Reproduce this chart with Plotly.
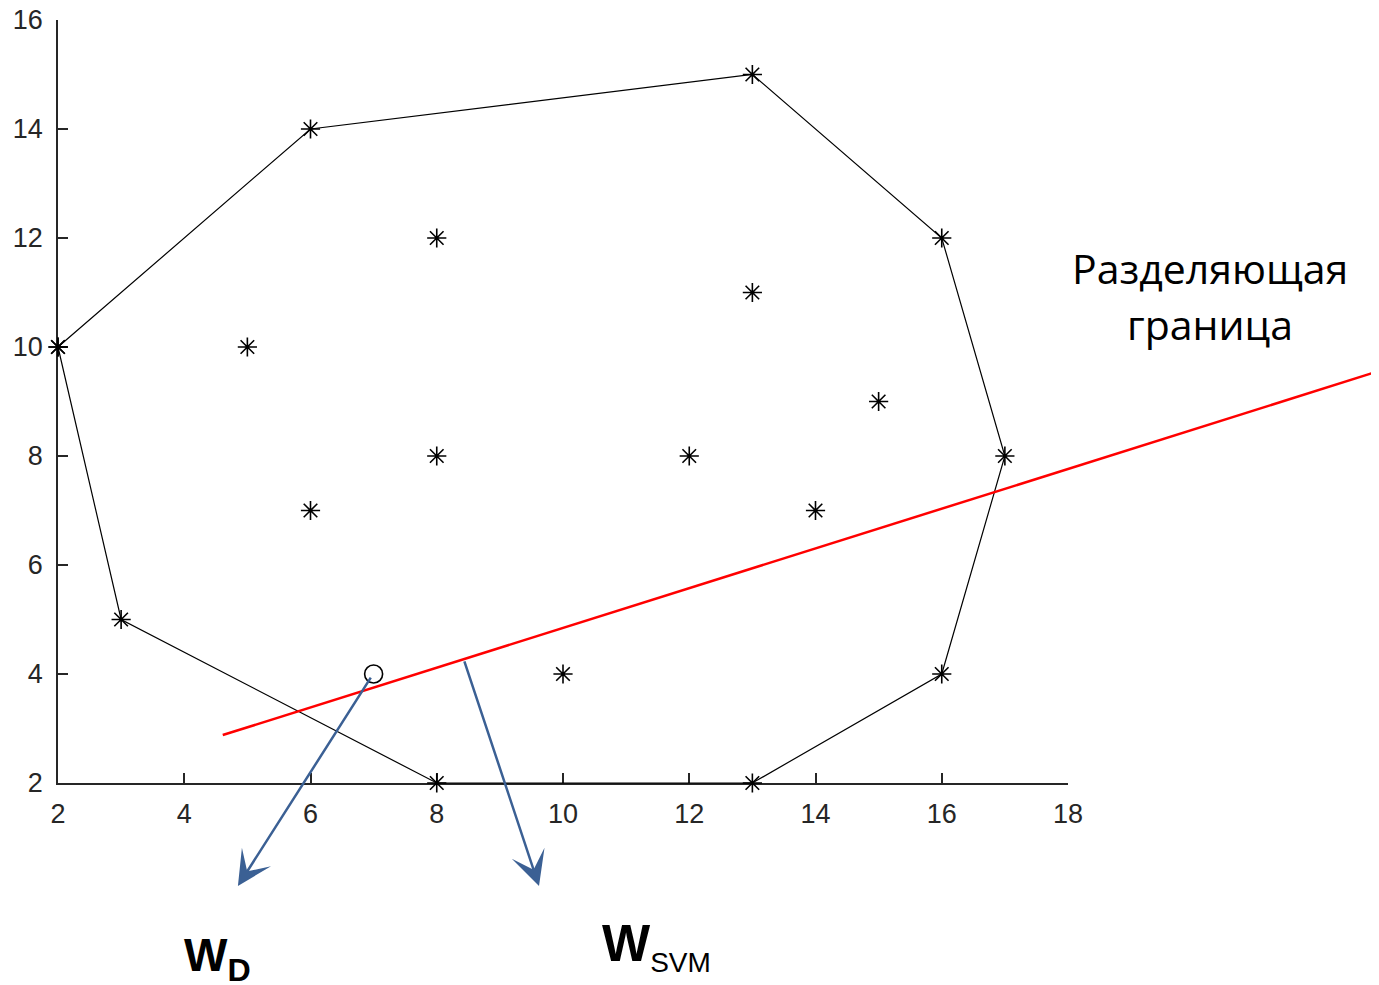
import plotly.graph_objects as go

# ---------------- data ----------------
hull_x = [2, 6, 13, 16, 17, 16, 13, 8, 3, 2]
hull_y = [10, 14, 15, 12, 8, 4, 2, 2, 5, 10]
inner_x = [8, 5, 13, 15, 8, 12, 6, 14, 10]
inner_y = [12, 10, 11, 9, 8, 8, 7, 7, 4]
test_x = [7]
test_y = [4]
boundary_x = [4.61, 22.82]
boundary_y = [2.88, 9.52]
# arrows: tail -> tip
wd_tail = (6.97, 3.96)
wd_tip = (4.85, 0.11)
wsvm_tail = (8.43, 4.26)
wsvm_tip = (9.62, 0.11)
xticks = [2, 4, 6, 8, 10, 12, 14, 16, 18]
yticks = [2, 4, 6, 8, 10, 12, 14, 16]

# ---------------- geometry ----------------
OFF = 8  # page body margin
W, H = 1379 - OFF, 985 - OFF
px_l, px_r = 58 - OFF, 1068 - OFF      # x=2 .. x=18
py_t, py_b = 20 - OFF, 783 - OFF       # y=16 .. y=2
xmin, xmax, ymin, ymax = 2, 18, 2, 16
sx = (px_r - px_l) / (xmax - xmin)
sy = (py_b - py_t) / (ymax - ymin)
x2_range = [xmin - px_l / sx, xmin + (W - px_l) / sx]
y2_range = [ymin - (H - py_b) / sy, ymax + py_t / sy]


def px(x):
    return (x - OFF) / W


def py(y):
    return 1 - (y - OFF) / H


AX = "#262626"
BLUE = "#3B6094"

fig = go.Figure()
fig.add_trace(go.Scatter(x=[], y=[], xaxis="x", yaxis="y", showlegend=False))
fig.add_trace(go.Scatter(x=hull_x, y=hull_y, mode="lines+markers", xaxis="x2", yaxis="y2",
                         line=dict(color="black", width=1.2),
                         marker=dict(symbol="asterisk-open", size=16, color="black",
                                     line=dict(color="black", width=1.6)),
                         showlegend=False, hoverinfo="skip"))
fig.add_trace(go.Scatter(x=inner_x, y=inner_y, mode="markers", xaxis="x2", yaxis="y2",
                         marker=dict(symbol="asterisk-open", size=16, color="black",
                                     line=dict(color="black", width=1.6)),
                         showlegend=False, hoverinfo="skip"))
fig.add_trace(go.Scatter(x=test_x, y=test_y, mode="markers", xaxis="x2", yaxis="y2",
                         marker=dict(symbol="circle-open", size=18, color="black",
                                     line=dict(color="black", width=1.6)),
                         showlegend=False, hoverinfo="skip"))
fig.add_trace(go.Scatter(x=boundary_x, y=boundary_y, mode="lines", xaxis="x2", yaxis="y2",
                         line=dict(color="#FF0000", width=2.5),
                         showlegend=False, hoverinfo="skip"))

annotations = []
for tail, tip in [(wd_tail, wd_tip), (wsvm_tail, wsvm_tip)]:
    annotations.append(dict(x=tip[0], y=tip[1], ax=tail[0], ay=tail[1],
                            xref="x2", yref="y2", axref="x2", ayref="y2",
                            text="", showarrow=True, arrowhead=3, arrowsize=2.3,
                            arrowwidth=2.5, arrowcolor=BLUE, standoff=0, startstandoff=0))

annotations.append(dict(x=px(1210), y=py(268), xref="paper", yref="paper",
                        text="Разделяющая", showarrow=False, xanchor="center", yanchor="middle",
                        font=dict(family="Open Sans", size=41, color="black")))
annotations.append(dict(x=px(1210), y=py(324), xref="paper", yref="paper",
                        text="граница", showarrow=False, xanchor="center", yanchor="middle",
                        font=dict(family="Open Sans", size=41, color="black")))
annotations.append(dict(x=px(217), y=py(958), xref="paper", yref="paper",
                        text="<b>W<sub>D</sub></b>", showarrow=False, xanchor="center", yanchor="middle",
                        font=dict(family="Liberation Sans", size=46, color="black")))
annotations.append(dict(x=px(656), y=py(946), xref="paper", yref="paper",
                        text="<b>W</b><sub><span style='font-size:28px'>SVM</span></sub>",
                        showarrow=False, xanchor="center", yanchor="middle",
                        font=dict(family="Liberation Sans", size=51, color="black")))

axis_common = dict(showgrid=False, zeroline=False, showline=True, linecolor=AX, linewidth=1.5,
                   ticks="inside", ticklen=10, tickwidth=1.5, tickcolor=AX, automargin=False,
                   ticklabeloverflow="allow",
                   tickfont=dict(family="Liberation Sans", size=27, color=AX))

fig.update_layout(
    width=W, height=H, autosize=False,
    margin=dict(l=0, r=0, t=0, b=0, pad=0, autoexpand=False),
    paper_bgcolor="white", plot_bgcolor="rgba(0,0,0,0)",
    xaxis=dict(domain=[px_l / W, px_r / W], range=[xmin, xmax], tickvals=xticks,
               anchor="y", ticklabelstandoff=6, **axis_common),
    yaxis=dict(domain=[1 - py_b / H, 1 - py_t / H], range=[ymin, ymax], tickvals=yticks,
               anchor="x", ticklabelstandoff=8, **axis_common),
    xaxis2=dict(domain=[0, 1], range=x2_range, visible=False, anchor="y2", automargin=False),
    yaxis2=dict(domain=[0, 1], range=y2_range, visible=False, anchor="x2", automargin=False),
    annotations=annotations,
    showlegend=False,
)

fig.write_html("out.html")
